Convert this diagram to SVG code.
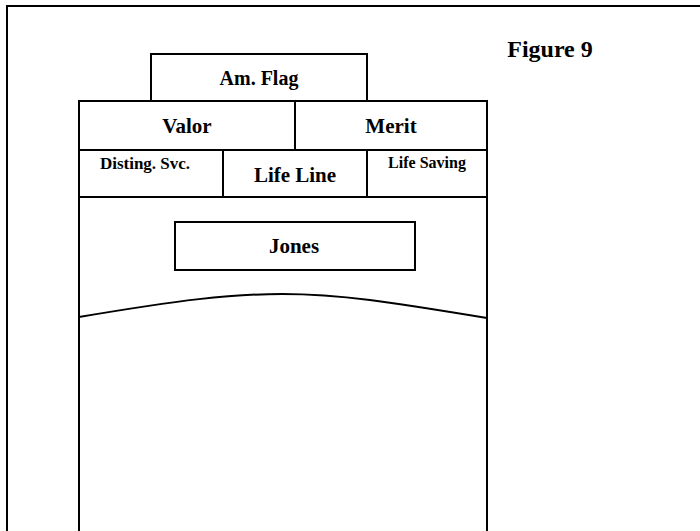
<svg xmlns="http://www.w3.org/2000/svg" width="700" height="531" viewBox="0 0 700 531">
<style>
.b{fill:none;stroke:#000;stroke-width:2}
.t{font-family:"Liberation Serif",serif;font-weight:bold;fill:#000;text-anchor:middle}
</style>
<rect width="700" height="531" fill="#fff"/>
<path class="b" d="M7,531 V6 H700"/>
<text class="t" x="550" y="57" font-size="24">Figure 9</text>
<g id="flag"><rect class="b" x="151" y="54" width="216" height="47"/><text class="t" x="259" y="85" font-size="20">Am. Flag</text></g>
<g id="column"><path class="b" d="M79,531 V101 H487 V531"/></g>
<g id="valor"><rect class="b" x="79" y="101" width="216" height="49"/><text class="t" x="187" y="133" font-size="21">Valor</text></g>
<g id="merit"><rect class="b" x="295" y="101" width="192" height="49"/><text class="t" x="391" y="133" font-size="21">Merit</text></g>
<g id="disting"><rect class="b" x="79" y="150" width="144" height="47"/><text class="t" x="145" y="169" font-size="17">Disting. Svc.</text></g>
<g id="lifeline"><rect class="b" x="223" y="150" width="144" height="47"/><text class="t" x="295" y="182" font-size="21">Life Line</text></g>
<g id="lifesaving"><rect class="b" x="367" y="150" width="120" height="47"/><text class="t" x="427" y="168" font-size="16">Life Saving</text></g>
<g id="jones"><rect class="b" x="175" y="222" width="240" height="48"/><text class="t" x="294" y="253" font-size="21">Jones</text></g>
<g id="connectors"><path class="b" d="M79,317 C180,300 230,294 282,294 C340,294 390,302 487,318"/></g>
</svg>
